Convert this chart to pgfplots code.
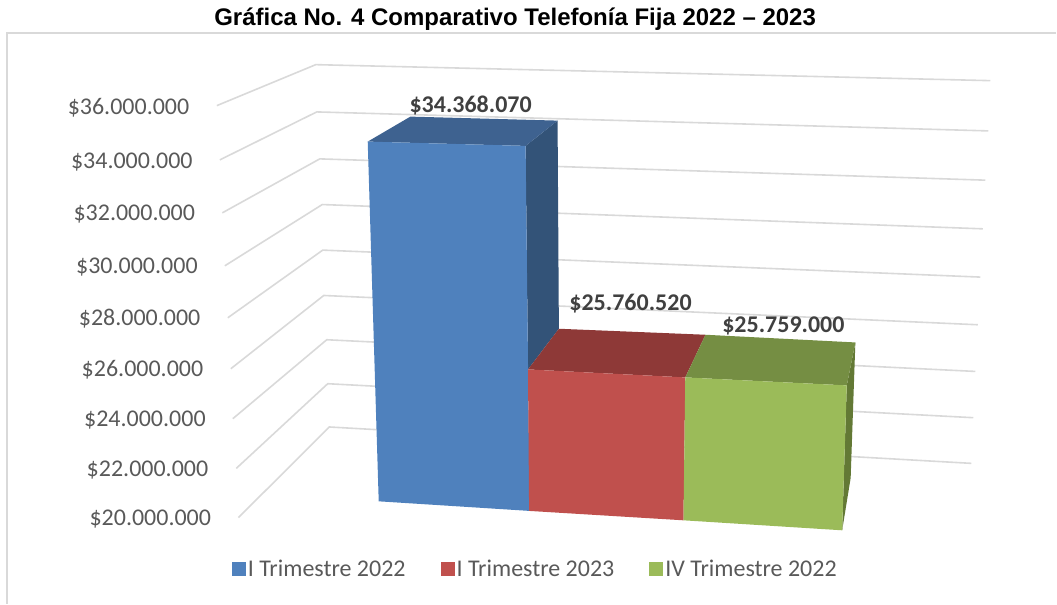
\documentclass[border=0pt]{standalone}
\usepackage{pgfplots}
\usepackage{fontspec}
\setmainfont{Carlito}
\newfontfamily\titlefont{Liberation Sans}
\pgfplotsset{compat=1.18}
\definecolor{bluefront}{HTML}{4F81BD}
\definecolor{bluetop}{HTML}{3E6290}
\definecolor{blueside}{HTML}{335378}
\definecolor{redfront}{HTML}{C0504D}
\definecolor{redtop}{HTML}{8E3937}
\definecolor{greenfront}{HTML}{9BBB59}
\definecolor{greentop}{HTML}{758E43}
\definecolor{greenside}{HTML}{637935}
\definecolor{gridc}{HTML}{D9D9D9}
\definecolor{labc}{HTML}{595959}
\definecolor{datc}{HTML}{404040}
\newcommand{\bigf}{\fontsize{24}{28}\selectfont}
\tikzset{
  tl/.style={font=\bigf, text=labc, anchor=base east, inner sep=0pt},
  dl/.style={font=\bigf\bfseries, text=datc, anchor=base, inner sep=0pt},
}
\begin{document}
\begin{tikzpicture}
\begin{axis}[
  at={(0,0)}, anchor=south west,
  width=1057pt, height=604pt, scale only axis,
  xmin=0, xmax=1057, ymin=0, ymax=604, y dir=reverse,
  hide axis, clip=false,
  legend style={at={(axis cs:232,569)}, anchor=west, draw=none, fill=none,
    legend columns=-1, inner sep=0pt, outer sep=0pt,
    font=\bigf\color{labc},
    /tikz/every even column/.append style={column sep=33pt}},
  legend cell align=left,
  legend image code/.code={\fill[#1] (0pt,-7pt) rectangle (14pt,7pt);},
  grid line/.style={draw=gridc, line width=1.6pt, forget plot},
]
% page corners and chart frame
\addplot[draw=none, forget plot] coordinates {(0,0) (1057,604)};
\addplot[grid line, line width=1.6pt] coordinates {(7,604) (7,33) (1057,33)};
% gridlines
\addplot[grid line] coordinates {(217,105.7) (316,64.7) (991,80.7)};
\addplot[grid line] coordinates {(220,160) (317,112) (989,131)};
\addplot[grid line] coordinates {(222.5,213) (320,159) (986,180.3)};
\addplot[grid line] coordinates {(225,266) (322.5,204.7) (983.5,229)};
\addplot[grid line] coordinates {(228,318) (323,250.3) (981,277.3)};
\addplot[grid line] coordinates {(231,369) (324,295.7) (978.5,325)};
\addplot[grid line] coordinates {(233,419) (327,340) (976,371.7)};
\addplot[grid line] coordinates {(236.5,468.7) (328,384) (974,418)};
\addplot[grid line] coordinates {(238.6,518) (329.6,427.3) (972,463.7)};
% blue column
\addplot[fill=blueside, draw=none, forget plot] coordinates {(526,146) (558,120.7) (559.3,329) (528.4,369.7)} --cycle;
\addplot[fill=bluetop, draw=none, forget plot] coordinates {(368,141.7) (410.7,116.7) (558,120.7) (526,146)} --cycle;
\addplot[fill=bluefront, draw=none] coordinates {(368,141.7) (526,146) (530,511.3) (379,501.7)} --cycle;
\addlegendentry{I Trimestre 2022}
% red column
\addplot[fill=redtop, draw=none, forget plot] coordinates {(528.4,369.7) (559.3,329) (706,335) (685.8,377.7)} --cycle;
\addplot[fill=redfront, draw=none] coordinates {(528.4,369.7) (685.8,377.7) (684,520.7) (529.5,511.3)} --cycle;
\addlegendentry{I Trimestre 2023}
% green column
\addplot[fill=greenside, draw=none, forget plot] coordinates {(847.4,385.7) (856,342.7) (851.3,478.3) (842.8,530.7)} --cycle;
\addplot[fill=greentop, draw=none, forget plot] coordinates {(685.8,377.7) (706,335) (856,342.7) (847.4,385.7)} --cycle;
\addplot[fill=greenfront, draw=none] coordinates {(685.8,377.7) (847.4,385.7) (842.8,530.7) (684,520.7)} --cycle;
\addlegendentry{IV Trimestre 2022}
% axis labels
\node[tl] at (axis cs:189.6,114.2) {\$36.000.000};
\node[tl] at (axis cs:192.9,168.2) {\$34.000.000};
\node[tl] at (axis cs:195.4,220.5) {\$32.000.000};
\node[tl] at (axis cs:198,274.2) {\$30.000.000};
\node[tl] at (axis cs:200.7,325.8) {\$28.000.000};
\node[tl] at (axis cs:203.6,376.8) {\$26.000.000};
\node[tl] at (axis cs:206,426.8) {\$24.000.000};
\node[tl] at (axis cs:208.6,476.5) {\$22.000.000};
\node[tl] at (axis cs:211.4,525.8) {\$20.000.000};
% data labels
\node[dl] at (axis cs:471,112.5) {\$34.368.070};
\node[dl] at (axis cs:631,310.5) {\$25.760.520};
\node[dl] at (axis cs:784,332.5) {\$25.759.000};
% title
\node[font=\titlefont\fontsize{24}{28}\selectfont\bfseries, text=black, anchor=base, inner sep=0pt] at (axis cs:515.5,26) {Gráfica No. 4 Comparativo Telefonía Fija 2022 – 2023};
\end{axis}
\end{tikzpicture}
\end{document}
